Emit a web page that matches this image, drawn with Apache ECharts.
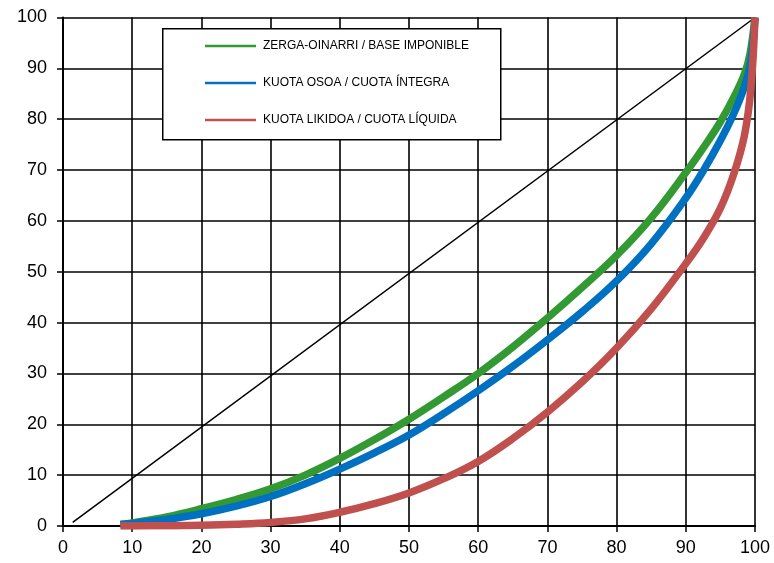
<!DOCTYPE html>
<html><head><meta charset="utf-8">
<script src="https://cdn.jsdelivr.net/npm/echarts@6/dist/echarts.min.js"></script>
<style>html,body{margin:0;padding:0;background:#fff}#c{width:774px;height:563px}</style>
</head><body><div id="c"></div>
<script>
// Data (x = % population, y = % cumulative)
var seriesNames = ['ZERGA-OINARRI / BASE IMPONIBLE', 'KUOTA OSOA / CUOTA ÍNTEGRA', 'KUOTA LIKIDOA / CUOTA LÍQUIDA'];
var greenX = [8.3, 10, 15, 20, 25, 30, 35, 40, 45, 50, 55, 60, 65, 70, 75, 80, 85, 90, 93, 95, 97, 98.5, 99.3, 100];
var greenY = [0.3, 0.6, 1.8, 3.4, 5.2, 7.3, 10.0, 13.3, 17.0, 21.0, 25.4, 30.0, 35.2, 40.9, 46.9, 53.2, 60.6, 69.5, 75.3, 79.5, 84.5, 89.0, 93.0, 100];
var blueX = [8.3, 10, 15, 20, 25, 30, 35, 40, 45, 50, 55, 60, 65, 70, 75, 80, 85, 90, 92.5, 95, 97, 98.5, 99.4, 100];
var blueY = [0.3, 0.5, 1.3, 2.4, 3.9, 5.8, 8.3, 11.2, 14.4, 17.9, 22.1, 26.6, 31.4, 36.6, 42.1, 48.2, 55.5, 64.5, 69.8, 75.8, 81.3, 86.5, 91.5, 100];
var redX = [8.3, 10, 15, 20, 25, 30, 35, 40, 45, 50, 55, 60, 65, 70, 75, 80, 85, 90, 92.5, 95, 97, 98.5, 99.4, 100];
var redY = [0, 0.02, 0.06, 0.15, 0.35, 0.7, 1.4, 2.7, 4.4, 6.5, 9.3, 12.7, 17.2, 22.4, 28.3, 35.0, 42.7, 51.6, 56.5, 62.5, 69.5, 77.0, 86.0, 100];
var diagX = [1.4, 100];
var diagY = [0.7, 100];

function pairs(xs, ys) { return xs.map(function (x, i) { return [x, ys[i]]; }); }

var chart = echarts.init(document.getElementById('c'), null, { renderer: 'canvas' });
var axisCommon = {
  type: 'value', min: 0, max: 100, interval: 10,
  axisLine: { show: true, lineStyle: { color: '#000', width: 2 } },
  axisTick: { show: true, length: 6, lineStyle: { color: '#000', width: 1.5 } },
  splitLine: { show: true, lineStyle: { color: '#000', width: 1.6 } },
  axisLabel: { color: '#000', fontSize: 18, fontFamily: 'Liberation Sans, Arial, sans-serif' }
};
var option = {
  animation: false,
  backgroundColor: '#fff',
  grid: { left: 63, right: 19, top: 17.5, bottom: 37, containLabel: false },
  xAxis: Object.assign({}, axisCommon, { axisLabel: Object.assign({}, axisCommon.axisLabel, { margin: 13 }) }),
  yAxis: Object.assign({}, axisCommon, { axisLabel: Object.assign({}, axisCommon.axisLabel, { margin: 16 }) }),
  graphic: [{
    type: 'rect', left: 162, top: 28, z: 50,
    shape: { width: 338, height: 111 },
    style: { fill: '#fff', stroke: '#000', lineWidth: 1.5 }
  }],
  legend: {
    orient: 'vertical', left: 205, top: 40, z: 60,
    itemWidth: 51, itemHeight: 2.5, itemGap: 25, icon: 'rect', padding: 0,
    textStyle: { color: '#000', fontSize: 12, fontFamily: 'Liberation Sans, Arial, sans-serif', padding: [0, 0, 0, 2] },
    data: seriesNames
  },
  series: [
    { name: 'diag', type: 'line', data: pairs(diagX, diagY), symbol: 'none', lineStyle: { color: '#000', width: 1.5 }, z: 3 },
    { name: seriesNames[0], type: 'line', data: pairs(greenX, greenY), symbol: 'none', smooth: 0.4, color: '#339933', lineStyle: { color: '#339933', width: 7.5 }, z: 4 },
    { name: seriesNames[1], type: 'line', data: pairs(blueX, blueY), symbol: 'none', smooth: 0.4, color: '#0070C0', lineStyle: { color: '#0070C0', width: 7.5 }, z: 5 },
    { name: seriesNames[2], type: 'line', data: pairs(redX, redY), symbol: 'none', smooth: 0.4, color: '#C0504D', lineStyle: { color: '#C0504D', width: 7.5 }, z: 6 }
  ]
};
chart.setOption(option);
</script>
</body></html>
